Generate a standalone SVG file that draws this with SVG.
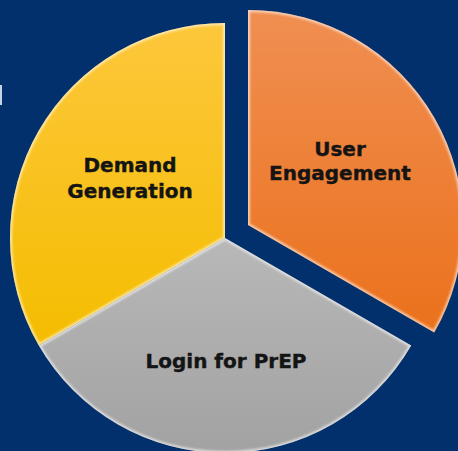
<svg xmlns="http://www.w3.org/2000/svg" width="458" height="451" viewBox="0 0 458 451">
<defs>
<linearGradient id="gY" x1="0" y1="0" x2="0" y2="1"><stop offset="0" stop-color="#fdc73c"/><stop offset="1" stop-color="#f4bd00"/></linearGradient>
<linearGradient id="gO" x1="0" y1="0" x2="0" y2="1"><stop offset="0" stop-color="#f08f52"/><stop offset="1" stop-color="#eb711c"/></linearGradient>
<linearGradient id="gG" x1="0" y1="0" x2="0" y2="1"><stop offset="0" stop-color="#b8b8b8"/><stop offset="1" stop-color="#a2a2a2"/></linearGradient>
<clipPath id="cY"><path d="M225,238 L225,23 A215,215 0 0 0 38.8,345.5 Z"/></clipPath>
<clipPath id="cG"><path d="M225,238 L38.8,345.5 A215,215 0 0 0 411.2,345.5 Z"/></clipPath>
<clipPath id="cO"><path d="M248,225 L248,10 A215,215 0 0 1 434.2,332.5 Z"/></clipPath>
<filter id="soft" x="-5%" y="-5%" width="110%" height="110%"><feGaussianBlur stdDeviation="0.8"/></filter>
<style>
.lbl{font-family:"DejaVu Sans","Verdana",sans-serif;font-weight:bold;font-size:20px;fill:#141414;stroke:#141414;stroke-width:0.4;text-anchor:middle}
.bev{fill:none;stroke:#ffffff;stroke-width:4;stroke-opacity:0.6;filter:url(#soft)}
</style>
</defs>
<rect width="458" height="451" fill="#02306d"/>
<rect x="0" y="85" width="2" height="20" fill="#c9d2e3"/>
<g id="demand-generation">
<path d="M225,238 L225,23 A215,215 0 0 0 38.8,345.5 Z" fill="url(#gY)"/>
<path clip-path="url(#cY)" class="bev" d="M225,238 L225,23 A215,215 0 0 0 38.8,345.5 Z"/>
<text class="lbl" x="130" y="172">Demand</text>
<text class="lbl" x="130" y="198">Generation</text>
</g>
<g id="login-for-prep">
<path d="M225,238 L38.8,345.5 A215,215 0 0 0 411.2,345.5 Z" fill="url(#gG)"/>
<path clip-path="url(#cG)" class="bev" d="M225,238 L38.8,345.5 A215,215 0 0 0 411.2,345.5 Z"/>
<text class="lbl" x="226" y="368">Login for PrEP</text>
</g>
<g id="user-engagement">
<path d="M248,225 L248,10 A215,215 0 0 1 434.2,332.5 Z" fill="url(#gO)"/>
<path clip-path="url(#cO)" class="bev" d="M248,225 L248,10 A215,215 0 0 1 434.2,332.5 Z"/>
<text class="lbl" x="340" y="156">User</text>
<text class="lbl" x="340" y="180">Engagement</text>
</g>
<g id="connectors"/>
</svg>
